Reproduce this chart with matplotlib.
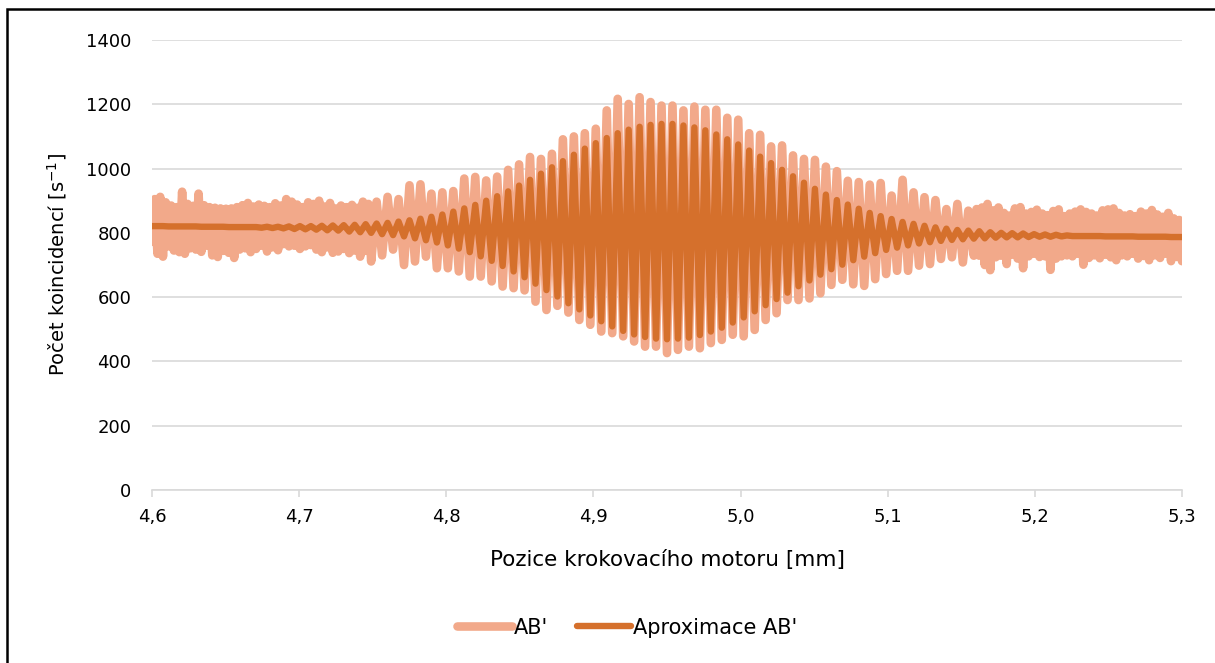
#knihovny
import numpy as np
import matplotlib
matplotlib.use("Agg")
import matplotlib.pyplot as plt
from matplotlib.patches import Rectangle

#rozsah osy x (poloha motoru v mm)
x_start = 4.6
x_end = 5.3
n_half = 188  #pocet pulperiod prouzku na ose

#namerena data AB'
#leva klidova cast (4,60 - 4,75 mm), hustsi body: minimum, maximum, ...
raw_left = [772, 905, 735, 912, 726, 895, 758, 885, 745, 880,
            740, 928, 735, 890, 752, 884, 748, 922, 741, 886,
            760, 880, 730, 878, 725, 876, 744, 875, 738, 876,
            722, 880, 748, 886, 752, 893, 740, 882, 750, 888,
            760, 884, 742, 880, 755, 892, 746, 885, 765, 905,
            758, 897, 760, 888, 750, 880, 758, 895, 762, 890,
            748, 900, 740, 882, 755, 893, 738, 876, 742, 885,
            750, 880, 737, 887, 745, 878, 726, 897, 744, 890]
#stredni cast s prouzky (4,75 - 5,16 mm) - minima a maxima prouzku
raw_center_lows = [711, 730, 748, 700, 711, 726, 690, 690, 680, 664,
                   664, 649, 633, 628, 621, 586, 560, 573, 552, 529,
                   514, 493, 488, 478, 462, 446, 446, 426, 436, 446,
                   441, 457, 467, 483, 478, 498, 529, 550, 591, 591,
                   596, 612, 638, 654, 640, 635, 656, 672, 682, 682,
                   698, 703, 719, 724, 708, 729]
raw_center_highs = [897, 912, 905, 948, 951, 922, 926, 930, 969, 974,
                    963, 975, 996, 1013, 1036, 1030, 1046, 1091, 1100, 1110,
                    1124, 1181, 1217, 1201, 1222, 1207, 1196, 1196, 1181, 1193,
                    1183, 1183, 1158, 1152, 1110, 1105, 1069, 1072, 1041, 1030,
                    1027, 1006, 992, 962, 958, 950, 955, 916, 965, 926,
                    911, 902, 874, 890, 869]
#prava klidova cast (5,16 - 5,30 mm): maximum, minimum, ...
raw_right = [874, 729, 879, 700, 890, 684, 870, 724, 879, 729,
             862, 703, 854, 732, 876, 720, 880, 690, 860, 727,
             865, 735, 872, 725, 860, 727, 855, 685, 868, 720,
             873, 727, 852, 730, 860, 727, 866, 735, 873, 701,
             865, 722, 860, 730, 854, 721, 870, 732, 873, 724,
             876, 715, 862, 730, 854, 727, 858, 735, 852, 720,
             866, 728, 860, 715, 871, 730, 857, 722, 850, 735,
             862, 712, 845, 725, 840, 712]

#aproximace AB' - vrcholy a udoli
fit_peaks = [821, 820, 820, 820, 819, 819, 819, 818, 818, 818,
             819, 819, 820, 821, 821, 822, 823, 824, 825, 827,
             829, 831, 835, 839, 844, 850, 857, 866, 876, 887,
             900, 914, 929, 947, 965, 984, 1004, 1023, 1043, 1062,
             1079, 1095, 1110, 1121, 1130, 1136, 1139, 1139, 1134, 1128,
             1119, 1106, 1091, 1075, 1056, 1037, 1017, 996, 976, 956,
             937, 919, 902, 888, 875, 862, 852, 843, 834, 828,
             822, 817, 813, 809, 807, 805, 802, 800, 799, 798,
             796, 795, 794, 792, 790, 790, 790, 789, 789, 789,
             788, 788, 788, 787]
fit_troughs = [821, 821, 820, 820, 820, 819, 819, 818, 818, 818,
               816, 815, 814, 812, 811, 810, 808, 807, 804, 802,
               800, 796, 793, 789, 783, 777, 770, 761, 751, 740,
               727, 713, 697, 680, 662, 642, 622, 602, 581, 562,
               543, 525, 509, 495, 484, 476, 471, 469, 471, 474,
               482, 493, 505, 521, 537, 556, 575, 594, 614, 634,
               652, 670, 687, 701, 715, 726, 737, 747, 754, 761,
               767, 771, 775, 778, 780, 782, 783, 785, 786, 786,
               787, 788, 788, 789, 790, 790, 790, 789, 789, 789,
               788, 788, 788, 787, 787]

x_ticks = [4.6, 4.7, 4.8, 4.9, 5.0, 5.1, 5.2, 5.3]
x_ticklabels = ["4,6", "4,7", "4,8", "4,9", "5,0", "5,1", "5,2", "5,3"]
y_ticks = [0, 200, 400, 600, 800, 1000, 1200, 1400]

#osa x po pulperiodach
x_half = np.linspace(x_start, x_end, n_half + 1)
k1 = 40   #zacatek stredni casti
k2 = 150  #konec stredni casti

#aproximace: sude body udoli, liche vrcholy
fit = np.empty(n_half + 1)
fit[0::2] = fit_troughs
fit[1::2] = fit_peaks

#namerena data poskladana z casti
center = np.empty(k2 - k1 + 1)
center[0::2] = raw_center_lows
center[1::2] = raw_center_highs
x_left = np.linspace(x_half[0], x_half[k1], len(raw_left) + 1)[:-1]
x_center = x_half[k1:k2 + 1]
x_right = np.linspace(x_half[k2], x_half[-1], len(raw_right) + 1)[1:]
x_raw = np.concatenate([x_left, x_center, x_right])
raw = np.concatenate([raw_left, center, raw_right])

plt.rcParams["font.family"] = ["DejaVu Sans"]

fig = plt.figure(figsize=(12.15, 6.63), dpi=100)
ax = fig.add_axes([152 / 1215, 173 / 663, 1030 / 1215, 450 / 663])

c_raw = "#F2A98A"
c_fit = "#D5702C"
ax.plot(x_raw, raw, color=c_raw, lw=6.2, solid_joinstyle="round",
        solid_capstyle="round", label="AB'", zorder=2)
ax.plot(x_half, fit, color=c_fit, lw=4.6, solid_joinstyle="round",
        solid_capstyle="round", label="Aproximace AB'", zorder=3)

ax.set_xlim(x_start, x_end)
ax.set_ylim(0, 1400)
ax.set_xticks(x_ticks)
ax.set_xticklabels(x_ticklabels)
ax.set_yticks(y_ticks)
ax.grid(axis="y", color="#d9d9d9", lw=1.2, zorder=0)
ax.set_axisbelow(True)
for s in ["top", "right", "left"]:
    ax.spines[s].set_visible(False)
ax.spines["bottom"].set_color("#d9d9d9")
ax.spines["bottom"].set_linewidth(1.2)
ax.tick_params(axis="y", length=0, pad=15, labelsize=13, labelcolor="#000000")
ax.tick_params(axis="x", length=5, width=1.2, color="#d9d9d9", pad=8,
               labelsize=13, labelcolor="#000000")

ax.set_xlabel("Pozice krokovacího motoru [mm]", fontsize=15.5, labelpad=17)
ax.set_ylabel("Počet koincidencí [s$\\mathregular{^{-1}}$]", fontsize=14, labelpad=12)

fig.legend(loc="lower center", bbox_to_anchor=(0.5165, 0.01), ncol=2, frameon=False,
           fontsize=15, handlelength=2.6, handletextpad=0.1, columnspacing=1.4)

#ramecek kolem obrazku
fig.patches.append(Rectangle((7 / 1215, -0.2), 1.5, 1.2 - 9 / 663,
                             transform=fig.transFigure, fill=False,
                             edgecolor="black", lw=1.8))

fig.savefig("out.png", dpi=100)
